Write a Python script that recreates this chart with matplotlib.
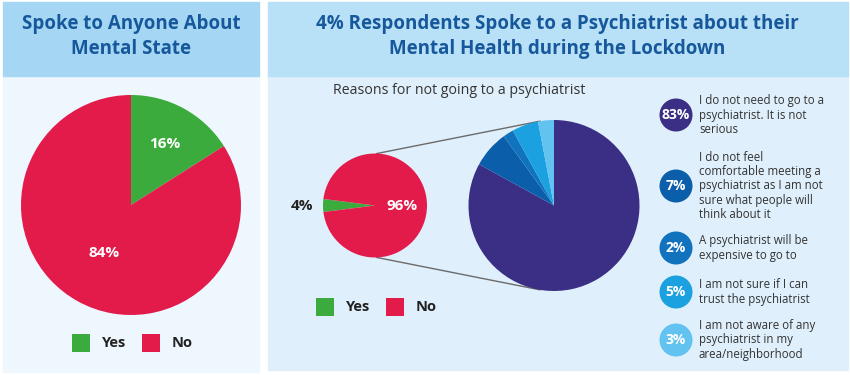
import matplotlib
matplotlib.use("Agg")
import matplotlib.pyplot as plt
from matplotlib.patches import Rectangle, Circle
import numpy as np

plt.rcParams['font.family'] = ['Open Sans', 'DejaVu Sans']

# ---------------- data ----------------
left_title = "Spoke to Anyone About\nMental State"
right_title = "4% Respondents Spoke to a Psychiatrist about their\nMental Health during the Lockdown"
subtitle = "Reasons for not going to a psychiatrist"
yn_labels = ["Yes", "No"]
anyone_values = [16, 84]
psych_values = [4, 96]
reason_values = [83, 7, 2, 5, 3]
reason_texts = [
    "I do not need to go to a\npsychiatrist. It is not\nserious",
    "I do not feel\ncomfortable meeting a\npsychiatrist as I am not\nsure what people will\nthink about it",
    "A psychiatrist will be\nexpensive to go to",
    "I am not sure if I can\ntrust the psychiatrist",
    "I am not aware of any\npsychiatrist in my\narea/neighborhood",
]

# ---------------- style ----------------
GREEN = "#3aab3c"
RED = "#e31b4b"
yn_colors = [GREEN, RED]
reason_colors = ["#3a2f85", "#0b5ea9", "#1172bd", "#1ba0e0", "#62c3f0"]
TITLE_C = "#16589b"
H = 375

fig = plt.figure(figsize=(8.5, 3.75), dpi=100)
ax = fig.add_axes([0, 0, 1, 1])

def Y(y):
    return H - y

def setlims():
    ax.set_xlim(0, 850)
    ax.set_ylim(0, 375)
    ax.set_aspect("equal")
    ax.axis("off")

setlims()

# panels
ax.add_patch(Rectangle((3, Y(372)), 256, 372 - 76, color="#eef6fe", zorder=0))
ax.add_patch(Rectangle((3, Y(76)), 256, 74, color="#a5d7f5", zorder=0))
ax.add_patch(Rectangle((268, Y(370)), 580, 370 - 76, color="#dfeffb", zorder=0))
ax.add_patch(Rectangle((268, Y(76)), 580, 74, color="#b8e0f7", zorder=0))

# titles
ax.text(131, Y(36.5), left_title, ha="center", va="center", fontsize=13.5,
        fontweight="bold", color=TITLE_C, linespacing=1.27)
ax.text(557, Y(36.5), right_title, ha="center", va="center", fontsize=13.5,
        fontweight="bold", color=TITLE_C, linespacing=1.27)
ax.text(459, Y(91), subtitle, ha="center", va="center", fontsize=10.2, color="#333333")

# ---------------- left pie ----------------
c1 = (131, Y(205)); r1 = 110
w1, _ = ax.pie(anyone_values, colors=yn_colors, startangle=90, counterclock=False,
               center=c1, radius=r1, wedgeprops=dict(linewidth=0))
dists = [0.63, 0.5]
for w, v, d in zip(w1, anyone_values, dists):
    a = np.deg2rad((w.theta1 + w.theta2) / 2)
    ax.text(c1[0] + d * r1 * np.cos(a), c1[1] + d * r1 * np.sin(a), f"{v}%",
            ha="center", va="center", color="white", fontsize=11, fontweight="bold")

# ---------------- small pie ----------------
c2 = (375, Y(205.5)); r2 = 52
w2, _ = ax.pie(psych_values, colors=yn_colors, startangle=180 - psych_values[0] * 1.8,
               counterclock=True, center=c2, radius=r2, wedgeprops=dict(linewidth=0))
for w, v, d, col in zip(w2, psych_values, [1.41, 0.52], ["#222222", "white"]):
    a = np.deg2rad((w.theta1 + w.theta2) / 2)
    ax.text(c2[0] + d * r2 * np.cos(a), c2[1] + d * r2 * np.sin(a), f"{v}%",
            ha="center", va="center", color=col, fontsize=11, fontweight="bold")

# ---------------- big pie ----------------
c3 = (554, Y(205.5)); r3 = 85.5
ax.pie(reason_values, colors=reason_colors, startangle=90, counterclock=False,
       center=c3, radius=r3, wedgeprops=dict(linewidth=0))

# connector lines
for sa, ba in [(88, 99.5), (272, 260.5)]:
    p1 = (c2[0] + r2 * np.cos(np.deg2rad(sa)), c2[1] + r2 * np.sin(np.deg2rad(sa)))
    p2 = (c3[0] + r3 * np.cos(np.deg2rad(ba)), c3[1] + r3 * np.sin(np.deg2rad(ba)))
    ax.plot([p1[0], p2[0]], [p1[1], p2[1]], color="#6b6b6b", lw=1.0, zorder=0.5)

setlims()

# ---------------- legends ----------------
def legend(x0, y, gap):
    for i, (lab, col) in enumerate(zip(yn_labels, yn_colors)):
        x = x0 + i * gap
        ax.add_patch(Rectangle((x, Y(y) - 9), 18, 18, color=col, lw=0))
        ax.text(x + 30, Y(y), lab, ha="left", va="center", fontsize=10.5,
                fontweight="bold", color="#222222")

legend(72, 343, 70)
legend(316, 307, 70)

# ---------------- reasons list ----------------
circle_y = [115, 186, 248, 292, 340]
for v, txt, col, cy in zip(reason_values, reason_texts, reason_colors, circle_y):
    ax.add_patch(Circle((676, Y(cy)), 16.5, color=col, lw=0))
    ax.text(676, Y(cy), f"{v}%", ha="center", va="center", color="white",
            fontsize=10, fontweight="bold")
    ax.text(699, Y(cy), txt, ha="left", va="center", color="#333333",
            fontsize=8.3, linespacing=1.12)

fig.savefig("out.png", dpi=100)
